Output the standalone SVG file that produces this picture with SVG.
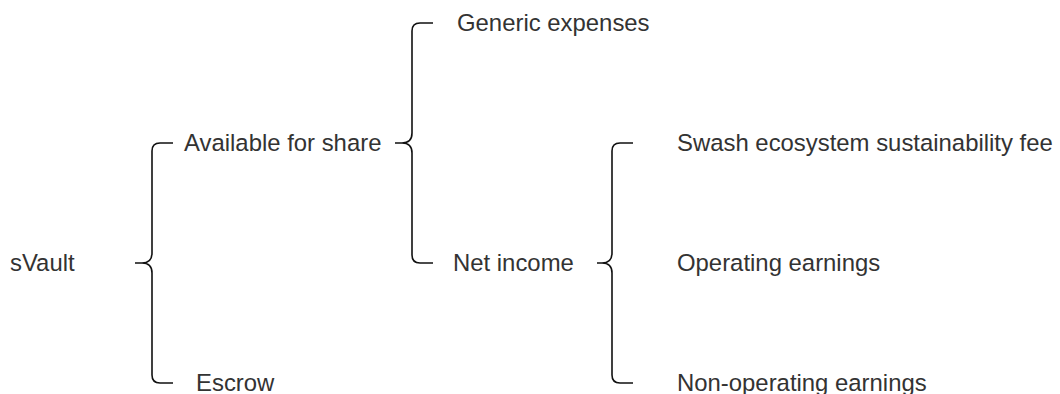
<svg xmlns="http://www.w3.org/2000/svg" width="1060" height="394" viewBox="0 0 1060 394">
<style>
.lbl{font-family:"Liberation Sans",Arial,Helvetica,sans-serif;font-size:23.9px;fill:#333}
.brace{fill:none;stroke:#111;stroke-width:1.6}
</style>
<rect width="1060" height="394" fill="#fff"/>
<g id="connectors">
<path class="brace" d="M173,143 H160 Q152,143 152,151 V253 Q152,263 142,263 H135 M142,263 Q152,263 152,273 V375 Q152,383 160,383 H173"/>
<path class="brace" d="M433,23 H420 Q412,23 412,31 V133 Q412,143 402,143 H395 M402,143 Q412,143 412,153 V255 Q412,263 420,263 H433"/>
<path class="brace" d="M633,143 H620 Q612,143 612,151 V253 Q612,263 602,263 H597 M602,263 Q612,263 612,273 V375 Q612,383 620,383 H633"/>
</g>
<g id="n-svault"><text class="lbl" x="10" y="271">sVault</text></g>
<g id="n-available"><text class="lbl" x="184" y="151">Available for share</text></g>
<g id="n-escrow"><text class="lbl" x="196" y="391">Escrow</text></g>
<g id="n-generic"><text class="lbl" x="457" y="31">Generic expenses</text></g>
<g id="n-netincome"><text class="lbl" x="453" y="271">Net income</text></g>
<g id="n-swash"><text class="lbl" x="677" y="151">Swash ecosystem sustainability fee</text></g>
<g id="n-operating"><text class="lbl" x="677" y="271">Operating earnings</text></g>
<g id="n-nonoperating"><text class="lbl" x="677" y="391">Non-operating earnings</text></g>
</svg>
